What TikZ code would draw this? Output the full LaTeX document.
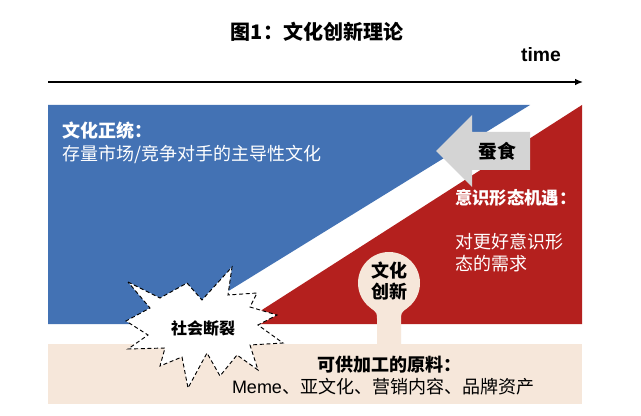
\documentclass[tikz,border=0pt]{standalone}
\usepackage{fontspec}
\setmainfont{Liberation Sans}
\newfontfamily\cjk{Noto Sans CJK SC}
\usetikzlibrary{arrows.meta}
\definecolor{cblue}{RGB}{67,114,180}
\definecolor{cred}{RGB}{180,32,30}
\definecolor{cbeige}{RGB}{246,231,218}
\definecolor{cgray}{RGB}{212,212,212}
\tikzset{
  txt/.style={inner sep=0pt, font=\cjk\fontsize{13.5}{16.5}\selectfont},
  btxt/.style={inner sep=0pt, font=\cjk\bfseries\fontsize{13.5}{16.5}\selectfont},
  whitetxt/.style={text=white},
  burst/.style={draw=black, fill=white, line width=0.7pt, dash pattern=on 3pt off 2pt, line join=miter},
}
\begin{document}
\begin{tikzpicture}[x=0.75pt,y=-0.75pt]
\useasboundingbox (0,0) rectangle (641,416);
\fill[white] (0,0) rectangle (641,416);

% title and time axis
\node[btxt, font=\cjk\bfseries\fontsize{15}{18}\selectfont] (title) at (317,32) {图1：文化创新理论};
\node[inner sep=0pt, font=\bfseries\fontsize{14.5}{16}\selectfont] (time) at (541,55) {time};
\coordinate (t0) at (48,82);
\coordinate (t1) at (583,82);
\draw[line width=1pt, -{Latex[length=6pt,width=5pt]}] (t0) -- (t1);

% blue and red regions
\fill[cblue] (48,105) -- (530,105) -- (175,324) -- (48,324) -- cycle;
\fill[cred] (582,105) -- (582,324) -- (240,324) -- cycle;

% beige band
\fill[cbeige] (48,344) rectangle (582,404);

% bulb: circle with stem
\fill[cbeige] (377,344) -- (377,320) .. controls (377,313) .. (371,308) -- (407,308) .. controls (401,313) .. (401,320) -- (401,344) -- cycle;
\node[circle, fill=cbeige, minimum size=62*0.75pt, inner sep=0pt] (bulb) at (389,283) {};
\node[btxt, align=center, font=\cjk\bfseries\fontsize{13.5}{15.75}\selectfont] (innov) at (389,281) {文化\\创新};

% gray arrow
\fill[cgray] (436,151) -- (472,115) -- (472,132) -- (530,132) -- (530,170) -- (472,170) -- (472,187) -- cycle;
\node[btxt, font=\cjk\bfseries\fontsize{14}{16}\selectfont] (eat) at (497,151) {蚕食};

% starburst
\draw[burst] (128,282) -- (160,298) -- (187,283) -- (202,300) -- (232,267) -- (228,295) -- (257,293) -- (250,307) -- (277,315) -- (258,325) -- (283,343) -- (250,345) -- (258,370) -- (237,355) -- (220,376) -- (207,353) -- (188,388) -- (182,357) -- (160,366) -- (165,348) -- (128,349) -- (148,335) -- (126,321) -- (150,308) -- cycle;
\node[btxt, font=\cjk\bfseries\fontsize{12}{14}\selectfont] (rupture) at (203,328) {社会断裂};

% texts
\node[btxt, whitetxt, anchor=west] (orth) at (62,131) {文化正统：};
\node[txt, whitetxt, anchor=west] (orthd) at (62,154) {存量市场/竞争对手的主导性文化};
\node[btxt, whitetxt, anchor=west, font=\cjk\bfseries\fontsize{13}{15}\selectfont] (ideo) at (455,198) {意识形态机遇：};
\node[txt, whitetxt, anchor=west, align=left] (ideod) at (455,253) {对更好意识形\\态的需求};
\node[btxt] (raw) at (389,365) {可供加工的原料：};
\node[txt] (rawd) at (383,387) {{\rmfamily Meme}、亚文化、营销内容、品牌资产};
\end{tikzpicture}
\end{document}
